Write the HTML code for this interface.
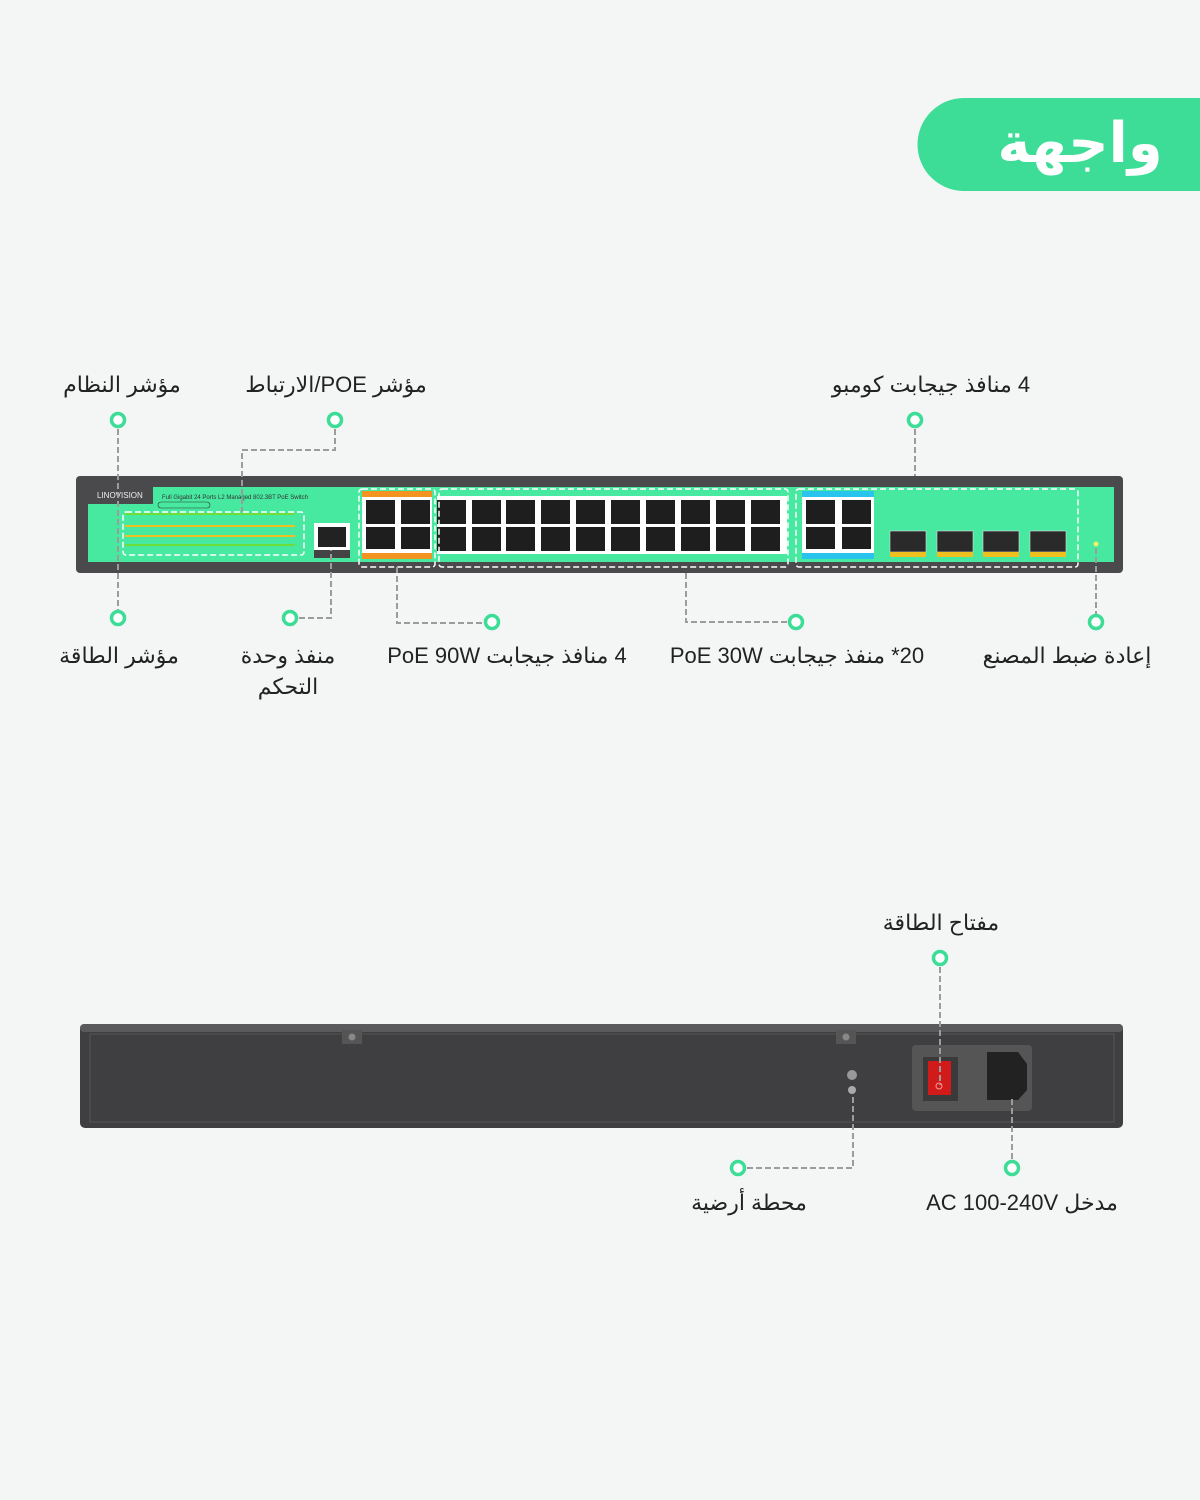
<!DOCTYPE html>
<html><head><meta charset="utf-8"><style>
body{margin:0;background:#f4f6f5;}
svg{display:block}
text{font-family:"Liberation Sans","DejaVu Sans",sans-serif;}
.l{font-size:22px;fill:#222;text-anchor:middle}
</style></head><body>
<svg width="1200" height="1500" viewBox="0 0 1200 1500" xmlns="http://www.w3.org/2000/svg">
<rect width="1200" height="1500" fill="#f4f6f5"/>
<path d="M964,98 H1200 V191 H964 A46.5,46.5 0 0 1 964,98 Z" fill="#3ddc97"/>
<text x="1080" y="162" font-size="56" font-weight="bold" fill="#fff" text-anchor="middle" direction="rtl">واجهة</text>

<!-- labels top -->
<text class="l" x="122" y="392" direction="rtl">مؤشر النظام</text>
<text class="l" x="336" y="392" direction="rtl">مؤشر POE/الارتباط</text>
<text class="l" x="931" y="392" direction="rtl">4 منافذ جيجابت كومبو</text>
<text class="l" x="119" y="663" direction="rtl">مؤشر الطاقة</text>
<text class="l" x="288" y="663" direction="rtl">منفذ وحدة</text>
<text class="l" x="288" y="694" direction="rtl">التحكم</text>
<text class="l" x="507" y="663" direction="rtl">4 منافذ جيجابت PoE 90W</text>
<text class="l" x="797" y="663" direction="rtl">20* منفذ جيجابت PoE 30W</text>
<text class="l" x="1067" y="663" direction="rtl">إعادة ضبط المصنع</text>

<!-- front device -->
<rect x="76" y="476" width="1047" height="97" rx="4" fill="#4a4a4c"/>
<rect x="88" y="487" width="1026" height="75" fill="#47e8a0"/>
<rect x="88" y="487" width="65" height="17" fill="#4a4a4c"/>
<text x="97" y="498" font-size="8" fill="#eee">LINOVISION</text>
<text x="162" y="499" font-size="6" fill="#333">Full Gigabit 24 Ports L2 Managed 802.3BT PoE Switch</text>
<rect x="158" y="502" width="52" height="6" rx="3" fill="none" stroke="#333" stroke-width="0.6"/>
<g fill="#6ddd3a">
<rect x="125" y="513" width="170" height="2"/><rect x="125" y="544" width="170" height="2"/>
</g>
<g fill="#f0c020"><rect x="125" y="525" width="170" height="2"/><rect x="125" y="535" width="170" height="2"/></g>
<rect x="314" y="523" width="36" height="33" fill="#fff"/><rect x="318" y="527" width="28" height="20" fill="#222"/>
<rect x="314" y="550" width="36" height="8" fill="#444"/>
<rect x="362" y="496" width="70" height="58" fill="#fff"/>
<rect x="362" y="491" width="70" height="6" fill="#f39422"/><rect x="362" y="553" width="70" height="6" fill="#f39422"/>
<rect x="437" y="496" width="350" height="58" fill="#fff"/>
<rect x="802" y="496" width="72" height="58" fill="#fff"/>
<rect x="802" y="491" width="72" height="6" fill="#29c4ee"/><rect x="802" y="553" width="72" height="6" fill="#29c4ee"/>
<g fill="#1e1e1e">
<rect x="366" y="500" width="29" height="24"/><rect x="401" y="500" width="29" height="24"/>
<rect x="366" y="527" width="29" height="22"/><rect x="401" y="527" width="29" height="22"/>
<rect x="806" y="500" width="29" height="24"/><rect x="842" y="500" width="29" height="24"/>
<rect x="806" y="527" width="29" height="22"/><rect x="842" y="527" width="29" height="22"/>
</g>
<g fill="#1e1e1e" id="row">
<rect x="437" y="500" width="29" height="24"/><rect x="472" y="500" width="29" height="24"/><rect x="506" y="500" width="29" height="24"/><rect x="541" y="500" width="29" height="24"/><rect x="576" y="500" width="29" height="24"/><rect x="611" y="500" width="29" height="24"/><rect x="646" y="500" width="29" height="24"/><rect x="681" y="500" width="29" height="24"/><rect x="716" y="500" width="29" height="24"/><rect x="751" y="500" width="29" height="24"/>
</g>
<use href="#row" transform="translate(0,27)"/>
<g fill="#2a2a2a" stroke="#ddd" stroke-width="0.6">
<rect x="890" y="531" width="36" height="21"/><rect x="937" y="531" width="36" height="21"/><rect x="983" y="531" width="36" height="21"/><rect x="1030" y="531" width="36" height="21"/>
</g>
<g fill="#f0c020">
<rect x="890" y="552" width="36" height="5"/><rect x="937" y="552" width="36" height="5"/><rect x="983" y="552" width="36" height="5"/><rect x="1030" y="552" width="36" height="5"/>
</g>
<circle cx="1096" cy="544" r="2.5" fill="#f2f06a"/>
<g fill="none" stroke="#fff" stroke-width="1.5" stroke-dasharray="6,3">
<rect x="123" y="512" width="181" height="43" rx="3"/>
<rect x="359" y="489" width="76" height="78" rx="3"/>
<rect x="439" y="489" width="349" height="78" rx="3"/>
<rect x="796" y="489" width="282" height="78" rx="3"/>
</g>

<!-- back device -->
<rect x="80" y="1024" width="1043" height="104" rx="5" fill="#3f3f41"/>
<rect x="80" y="1024" width="1043" height="8" rx="4" fill="#5a5a5c"/>
<rect x="90" y="1034" width="1024" height="88" fill="none" stroke="#555" stroke-width="1"/>
<rect x="342" y="1030" width="20" height="14" fill="#555"/><circle cx="352" cy="1037" r="3.5" fill="#888"/>
<rect x="836" y="1030" width="20" height="14" fill="#555"/><circle cx="846" cy="1037" r="3.5" fill="#888"/>
<circle cx="852" cy="1075" r="5" fill="#999"/><circle cx="852" cy="1090" r="4" fill="#aaa"/>
<rect x="912" y="1045" width="120" height="66" rx="4" fill="#555"/>
<rect x="923" y="1057" width="35" height="44" fill="#3a3a3a"/>
<rect x="928" y="1061" width="23" height="34" fill="#d11a1a"/>
<circle cx="939" cy="1086" r="3" fill="none" stroke="#f99" stroke-width="1"/>
<path d="M987,1052 H1018 L1027,1064 V1090 L1018,1100 H987 Z" fill="#222"/>
<text class="l" x="941" y="930" direction="rtl">مفتاح الطاقة</text>
<text class="l" x="749" y="1210" direction="rtl">محطة أرضية</text>
<text class="l" x="1022" y="1210" direction="rtl">مدخل AC 100-240V</text>

<!-- connectors -->
<g fill="none" stroke="#9c9c9c" stroke-width="2" stroke-dasharray="6,3">
<path d="M118,420 V618"/>
<path d="M335,420 V450 H242 V512"/>
<path d="M915,420 V476"/>
<path d="M290,618 H331 V550"/>
<path d="M397,567 V623 H492"/>
<path d="M686,573 V622 H796"/>
<path d="M1096,548 V622"/>
<path d="M940,958 V1085"/>
<path d="M738,1168 H853 V1095"/>
<path d="M1012,1168 V1098"/>
</g>
<g fill="#fff" stroke="#3ddc97" stroke-width="3.5">
<circle cx="118" cy="420" r="6.5"/><circle cx="335" cy="420" r="6.5"/><circle cx="915" cy="420" r="6.5"/>
<circle cx="118" cy="618" r="6.5"/><circle cx="290" cy="618" r="6.5"/><circle cx="492" cy="622" r="6.5"/>
<circle cx="796" cy="622" r="6.5"/><circle cx="1096" cy="622" r="6.5"/>
<circle cx="940" cy="958" r="6.5"/><circle cx="738" cy="1168" r="6.5"/><circle cx="1012" cy="1168" r="6.5"/>
</g>
</svg>
</body></html>
